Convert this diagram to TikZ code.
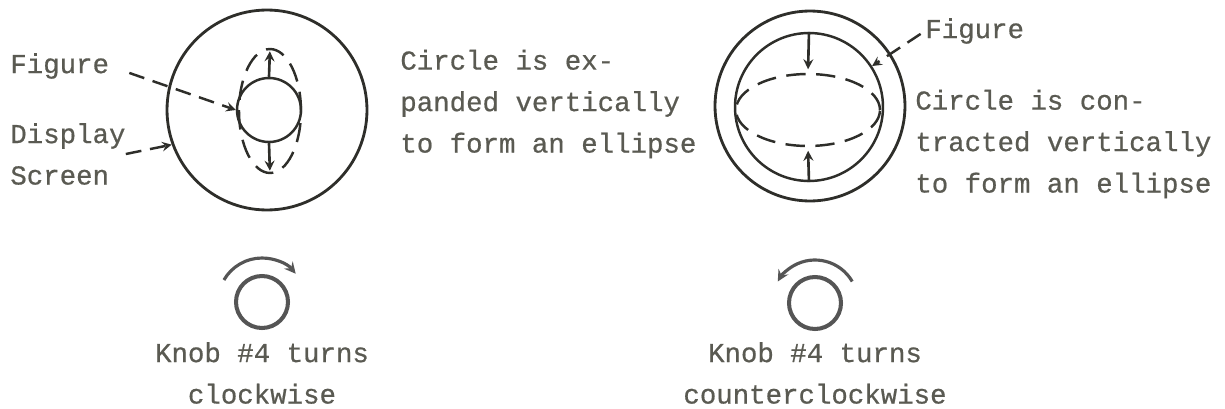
\documentclass[tikz,border=0pt]{standalone}
\usepackage{fontspec}
\setmainfont{Liberation Mono}[FakeBold=0.6]
\usepackage{tikz}
\usetikzlibrary{shapes,arrows,positioning}
\definecolor{ink}{HTML}{2E2E2A}
\definecolor{txt}{HTML}{5A5A52}
\definecolor{knobgray}{HTML}{555555}

\begin{document}
\begin{tikzpicture}[x=0.02cm,y=-0.02cm,color=ink,
  screen/.style={circle,draw,line width=1.6pt,inner sep=0pt,minimum size=#1},
  fig/.style={circle,draw,line width=1.4pt,inner sep=0pt,minimum size=#1},
  trace/.style={ellipse,draw,dash pattern=on 11pt off 6pt,line width=1.4pt,inner sep=0pt},
  push/.style={-stealth,line width=1.5pt,shorten >=2pt},
  lead/.style={dash pattern=on 9pt off 5pt,-stealth,line width=1.4pt},
  knob/.style={circle,draw=knobgray,line width=2.3pt,inner sep=0pt,minimum size=1.04cm},
  turn/.style={-stealth,draw=knobgray,line width=1.8pt},
  lbl/.style={text=txt,font=\fontsize{15.6}{23.6}\selectfont,inner sep=0pt,align=left}]
\useasboundingbox (0,0) rectangle (1225,409);
% Expanded figure (left)
\node[screen=4cm] (scr1) at (267,110) {};
\node[fig=1.28cm] (fig1) at (269,110) {};
\node[trace,minimum width=1.24cm,minimum height=2.48cm] (ell1) at (270,111) {};
\draw[push] (fig1.north) -- (ell1.north);
\draw[push] (fig1.south) -- (ell1.south);
\node[lbl,anchor=west] (lblfig1) at (10,66) {Figure};
\node[lbl,anchor=west] (lbldisp) at (10,154) {Display\\Screen};
\draw[lead,shorten <=12pt] (lblfig1.east) -- (fig1.west);
\draw[lead] (lbldisp.east) -- (scr1.200);
\node[lbl,anchor=west] (txt1) at (400,104) {Circle is ex-\\panded vertically\\to form an ellipse};
% Contracted figure (right)
\node[screen=3.8cm] (scr2) at (810,106) {};
\node[fig=2.96cm] (fig2) at (809,107) {};
\node[trace,minimum width=2.88cm,minimum height=1.44cm] (ell2) at (808,110) {};
\draw[push] (fig2.north) -- (ell2.north);
\draw[push] (fig2.south) -- (ell2.south);
\node[lbl,anchor=west] (lblfig2) at (925,31) {Figure};
\draw[lead,shorten <=3pt] (lblfig2.west) -- (fig2.33);
\node[lbl,anchor=west] (txt2) at (915,144) {Circle is con-\\tracted vertically\\to form an ellipse};
% Knobs
\node[knob] (knob1) at (262,302) {};
\draw[turn] ([shift={(150:0.88cm)}]knob1.center) arc[start angle=150,end angle=40,radius=0.88cm];
\node[lbl,align=center] (cap1) at (262,373) {Knob \#4 turns\\clockwise};
\node[knob] (knob2) at (815,303) {};
\draw[turn] ([shift={(30:0.86cm)}]knob2.center) arc[start angle=30,end angle=150,radius=0.86cm];
\node[lbl,align=center] (cap2) at (815,373) {Knob \#4 turns\\counterclockwise};
\end{tikzpicture}
\end{document}
